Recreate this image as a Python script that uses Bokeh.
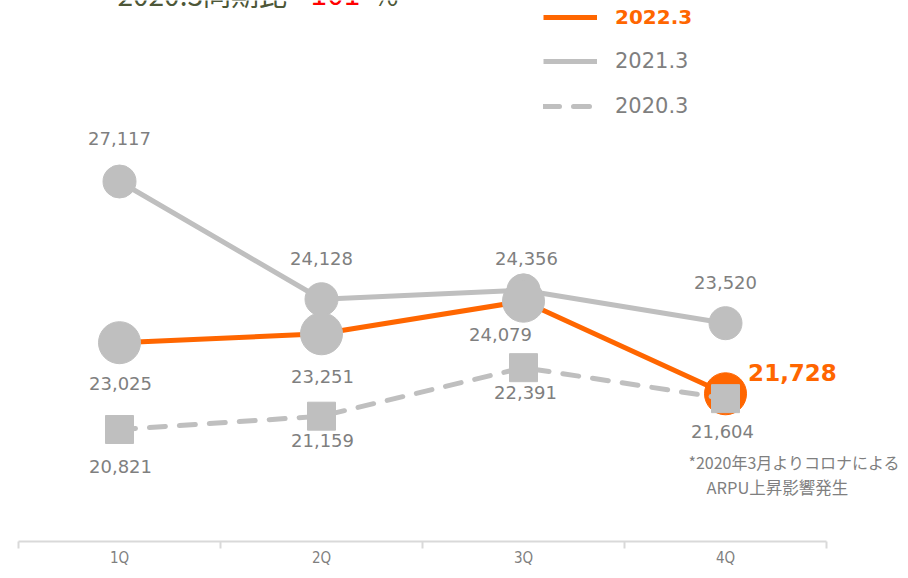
from bokeh.plotting import figure
from bokeh.models import Range1d, FixedTicker, Legend, LegendItem, Label
from bokeh.embed import file_html
from bokeh.resources import INLINE
from bokeh.core.properties import value

# ---- data ----
quarters = ["1Q", "2Q", "3Q", "4Q"]
arpu_2022 = [23025, 23251, 24079, 21728]
arpu_2021 = [27117, 24128, 24356, 23520]
arpu_2020 = [20821, 21159, 22391, 21604]
series_names = ["2022.3", "2021.3", "2020.3"]
yoy_text = "2020.3同期比 "
yoy_value = "101"
yoy_unit = "%"
footnote = ["*2020年3月よりコロナによる", "ARPU上昇影響発生"]

# ---- style / layout ----
W, H = 900, 570
FH = 541          # frame height (axis line position)
Y0, Y1 = 17978, 31712
ORANGE = "#ff6600"
GREY = "#bfbfbf"
TXT = "#7f7f7f"
NUM_FONT = value("DejaVu Sans")
CJK_FONT = "Noto Sans CJK JP"

xs = [i + 0.5 for i in range(len(quarters))]
PX = 202.0  # pixels per category
X0 = 18     # left end of the axis line


def px_x(sx):
    """layout pixel (from left) -> x data coordinate"""
    return (sx - X0) / PX


def px_y(sy):
    """layout pixel (from top) -> y data coordinate"""
    return Y1 - sy * (Y1 - Y0) / FH


p = figure(width=W, height=H, output_backend="svg", toolbar_location=None,
           x_range=Range1d(px_x(0), px_x(W)),
           y_range=Range1d(Y0, Y1),
           y_axis_location=None,
           min_border_left=0, min_border_right=0,
           min_border_top=0, min_border_bottom=H - FH)
p.grid.visible = False
p.outline_line_color = None

ax = p.xaxis[0]
ax.ticker = FixedTicker(ticks=xs, minor_ticks=list(range(len(quarters) + 1)))
ax.major_label_overrides = {x: q for x, q in zip(xs, quarters)}
ax.bounds = (0, len(quarters))
ax.axis_line_color = "#d9d9d9"
ax.axis_line_width = 2
ax.major_tick_out = 0
ax.major_tick_in = 0
ax.minor_tick_out = 7
ax.minor_tick_in = 0
ax.minor_tick_line_color = "#d9d9d9"
ax.minor_tick_line_width = 2
ax.major_label_text_color = TXT
ax.major_label_text_font = "Liberation Sans Narrow, DejaVu Sans Condensed, sans-serif"
ax.major_label_text_font_size = "15px"
ax.major_label_standoff = 0

# ---- series ----
r21 = p.line(xs, arpu_2021, line_color=GREY, line_width=5)
p.scatter(xs, arpu_2021, size=33, marker="circle", color=GREY)

r22 = p.line(xs, arpu_2022, line_color=ORANGE, line_width=5)
colors22 = [GREY] * (len(quarters) - 1) + [ORANGE]
p.scatter(xs, arpu_2022, size=42, marker="circle", color=colors22)

r20 = p.line(xs, arpu_2020, line_color=GREY, line_width=5, line_dash="16 14",
             line_cap="round")
p.scatter(xs, arpu_2020, size=28, marker="square", color=GREY)

# ---- data labels ----
def fmt(vals):
    return [f"{v:,}" for v in vals]

p.text(x=xs, y=arpu_2021, text=fmt(arpu_2021),
       x_offset=[0, 0, 3, 0], y_offset=[-43, -41, -32, -41],
       text_align="center", text_baseline="middle", text_font=NUM_FONT,
       text_font_size="18px", text_color=TXT)
p.text(x=xs[:-1], y=arpu_2022[:-1], text=fmt(arpu_2022[:-1]),
       x_offset=[1, 1, -23], y_offset=[41, 43, 33],
       text_align="center", text_baseline="middle", text_font=NUM_FONT,
       text_font_size="18px", text_color=TXT)
p.text(x=xs[-1:], y=arpu_2022[-1:], text=fmt(arpu_2022[-1:]),
       x_offset=[67], y_offset=[-21],
       text_align="center", text_baseline="middle", text_font=NUM_FONT,
       text_font_size="23px", text_font_style="bold", text_color=ORANGE)
p.text(x=xs, y=arpu_2020, text=fmt(arpu_2020),
       x_offset=[1, 1, 2, -3], y_offset=[37, 24, 25, 33],
       text_align="center", text_baseline="middle", text_font=NUM_FONT,
       text_font_size="18px", text_color=TXT)

# ---- legends ----
leg_specs = [
    (series_names[0], r22, 17, ORANGE, "bold", "20px"),
    (series_names[1], r21, 61, TXT, "normal", "21px"),
    (series_names[2], r20, 106, TXT, "normal", "21px"),
]
for name, rend, cy, col, style, size in leg_specs:
    leg = Legend(items=[LegendItem(label=name, renderers=[rend])],
                 location=(543, FH - cy - 15),
                 border_line_alpha=0, background_fill_alpha=0,
                 padding=0, margin=0, spacing=0,
                 glyph_width=54, glyph_height=30, label_height=30,
                 label_standoff=18,
                 label_text_font="DejaVu Sans", label_text_font_size=size,
                 label_text_font_style=style, label_text_color=col)
    p.add_layout(leg)

# ---- header: cut off by the top edge, as in the source ----
HY = px_y(-7)
p.text(x=[px_x(117)], y=[HY], text=[yoy_text], text_baseline="alphabetic",
       text_font=value(CJK_FONT), text_font_size="28px", text_color="#4d5738")
p.text(x=[px_x(310)], y=[HY], text=[yoy_value], text_baseline="alphabetic",
       text_font=value(CJK_FONT), text_font_size="30px", text_color="#ff0000")
p.text(x=[px_x(372)], y=[HY], text=[yoy_unit], text_baseline="alphabetic",
       text_font=value(CJK_FONT), text_font_size="28px", text_color="#4d5738")

# ---- footnote ----
p.add_layout(Label(x=688, y=FH - 461, x_units="screen", y_units="screen",
                   text=footnote[0], text_font=CJK_FONT, text_font_size="16px",
                   text_color=TXT, text_baseline="middle"))
p.add_layout(Label(x=706, y=FH - 486, x_units="screen", y_units="screen",
                   text=footnote[1], text_font=CJK_FONT, text_font_size="16.5px",
                   text_color=TXT, text_baseline="middle"))

open("out.html", "w").write(file_html(p, INLINE))
